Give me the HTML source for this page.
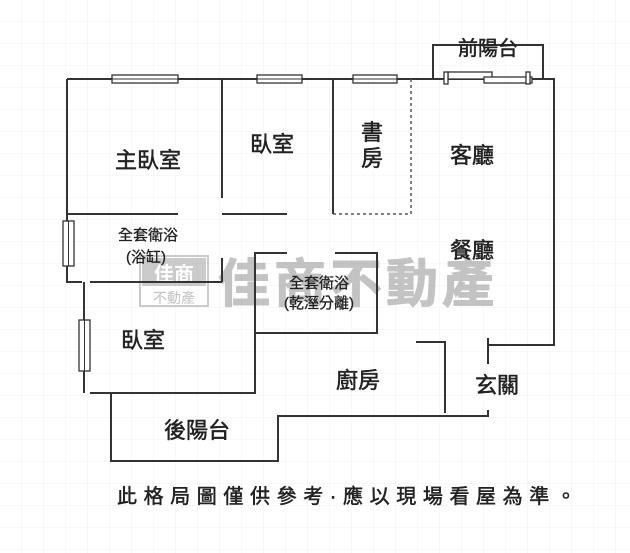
<!DOCTYPE html>
<html><head><meta charset="utf-8"><style>
html,body{margin:0;padding:0;background:#fff;}
svg{display:block;}
text{font-family:"Liberation Sans","Noto Sans CJK TC",sans-serif;fill:#222;stroke:#222;stroke-width:0.5;}
</style></head><body>
<svg width="630" height="553" viewBox="0 0 630 553" xmlns="http://www.w3.org/2000/svg">
<defs>
<pattern id="g" width="22" height="22" patternUnits="userSpaceOnUse">
<path d="M22 0V22H0" fill="none" stroke="#f2f2f2" stroke-width="1"/>
</pattern>
</defs>
<rect width="630" height="553" fill="#fff"/>
<rect width="630" height="553" fill="url(#g)"/>
<!-- watermark -->
<g opacity="0.5">
<rect x="140" y="256" width="68" height="50" fill="none" stroke="#999" stroke-width="2"/>
<rect x="142" y="258" width="64" height="28" fill="#999"/>
<text x="174" y="281" font-size="20" font-weight="bold" text-anchor="middle" style="fill:#fff;stroke:none">佳商</text>
<text x="174" y="303" font-size="14" text-anchor="middle" style="fill:#888;stroke:none">不動產</text>
<text x="358" y="302" font-size="52" font-weight="bold" text-anchor="middle" style="fill:#888;stroke:#888;stroke-width:1" letter-spacing="4">佳商不動產</text>
</g>
<g fill="none" stroke="#333" stroke-width="2">
<path d="M67 79H554V345H488"/>
<path d="M67 79V282H82"/>
<path d="M90 282H222"/>
<path d="M222 79V198"/>
<path d="M222 258V282"/>
<path d="M333 79V214"/>
<path d="M67 214H178"/>
<path d="M222 214H287"/>
<path d="M84 282V393"/>
<path d="M90 393H255V253H287"/>
<path d="M335 253H377V333H255"/>
<path d="M111 393V461H278V416H488V410"/>
<path d="M488 338V364"/>
<path d="M416 342H445V413"/>
<path d="M433 79V45H543V79"/>
</g>
<path d="M411 79V214H333" fill="none" stroke="#555" stroke-width="1.5" stroke-dasharray="3,3"/>
<!-- windows -->
<g fill="#fff" stroke="#333" stroke-width="1.3">
<rect x="112" y="75" width="66" height="8"/>
<rect x="257" y="75" width="45" height="8"/>
<rect x="353" y="75" width="44" height="8"/>
<rect x="448" y="72" width="44" height="7"/>
<rect x="484" y="77" width="48" height="6"/>
<rect x="444" y="72" width="4" height="12"/>
<rect x="526" y="72" width="4" height="12"/>
<rect x="63" y="221" width="11" height="45"/>
<rect x="79" y="320" width="11" height="51"/>
</g>
<g stroke="#333" stroke-width="1">
<path d="M112 79H178M257 79H302M353 79H397M68.5 221V266M84.5 320V371"/>
</g>
<g text-anchor="middle">
<text x="488" y="55" font-size="20">前陽台</text>
<text x="148" y="168" font-size="22">主臥室</text>
<text x="272" y="152" font-size="22">臥室</text>
<text x="372" y="140" font-size="22">書</text>
<text x="372" y="166" font-size="22">房</text>
<text x="472" y="163" font-size="22">客廳</text>
<text x="148" y="240" font-size="15" style="stroke-width:0.3">全套衛浴</text>
<text x="146" y="262" font-size="15" style="stroke-width:0.3">(浴缸)</text>
<text x="472" y="258" font-size="22">餐廳</text>
<text x="319" y="288" font-size="15" style="stroke-width:0.3">全套衛浴</text>
<text x="319" y="308" font-size="15" style="stroke-width:0.3">(乾溼分離)</text>
<text x="143" y="348" font-size="22">臥室</text>
<text x="358" y="388" font-size="22">廚房</text>
<text x="497" y="393" font-size="22">玄關</text>
<text x="197" y="438" font-size="22">後陽台</text>
</g>
<text x="117" y="503" font-size="20" letter-spacing="6.6">此格局圖僅供參考·應以現場看屋為準。</text>
</svg>
</body></html>
